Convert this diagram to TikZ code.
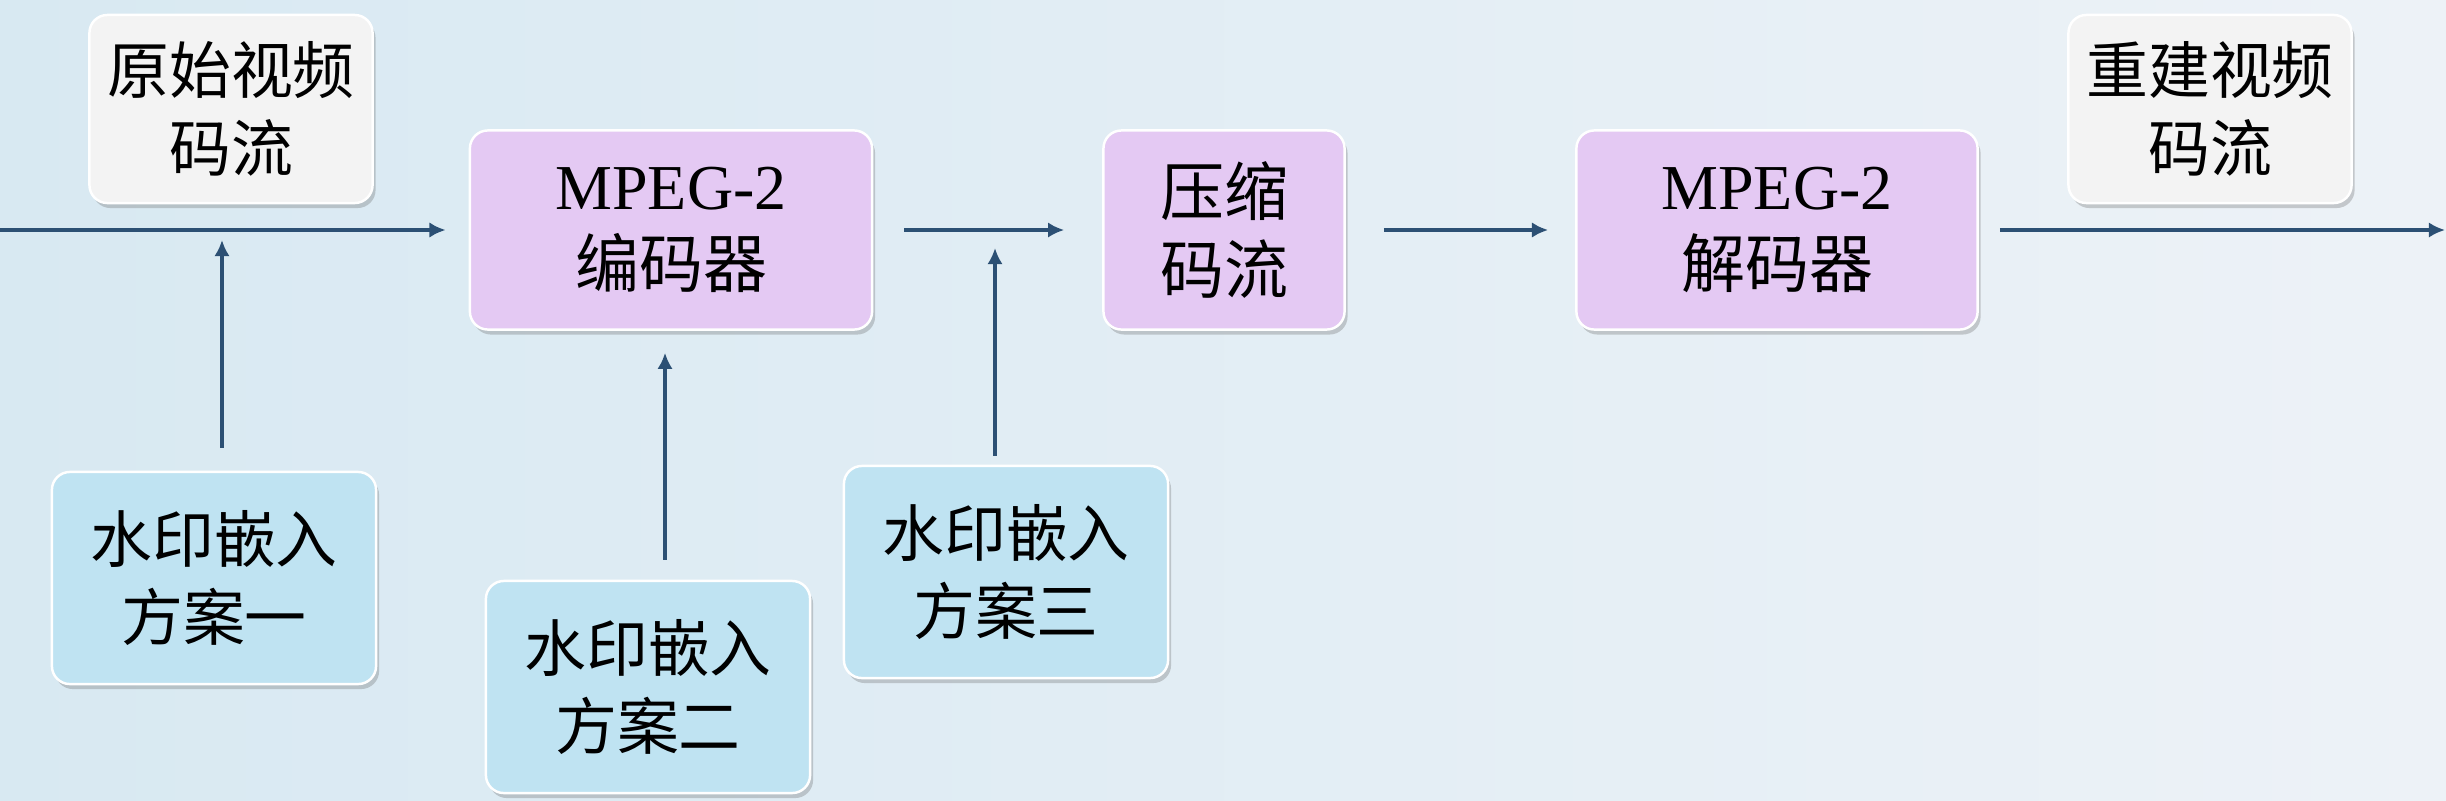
\documentclass[tikz,border=0pt]{standalone}
\usepackage{fontspec}
\setmainfont{Liberation Serif}
\newfontfamily\cjk{Noto Sans CJK SC}
\usepackage{tikz}
\usetikzlibrary{arrows.meta,shadows}

\definecolor{bgleft}{RGB}{216,233,242}
\definecolor{bgright}{RGB}{237,242,247}
\definecolor{flowblue}{RGB}{44,80,116}
\definecolor{grayfill}{RGB}{243,243,243}
\definecolor{lilac}{RGB}{228,201,243}
\definecolor{skyfill}{RGB}{191,227,242}

\begin{document}
\begin{tikzpicture}[x=0.01cm,y=-0.01cm,
	box/.style={rectangle,rounded corners=0.18cm,draw=white,line width=0.7pt,inner sep=0pt,align=center,
		font=\fontsize{17.6}{22.2}\selectfont,
		drop shadow={shadow xshift=0.03cm,shadow yshift=-0.05cm,opacity=0.3,fill=black!60}},
	stream/.style={box,fill=grayfill,minimum width=2.83cm,minimum height=1.88cm},
	codec/.style={box,fill=lilac,minimum height=1.99cm,font=\fontsize{18.2}{22.2}\selectfont},
	scheme/.style={box,fill=skyfill,minimum width=3.24cm,minimum height=2.12cm},
	flow/.style={-{Latex[length=4.6pt,width=4.4pt]},draw=flowblue,line width=1.1pt}]

			\useasboundingbox (0,0) rectangle (2446,800);
			\shade[left color=bgleft,right color=bgright] (0,0) rectangle (2446,800);

			%top nodes
			\node [stream] (src) at (231,109) {\cjk 原始视频\\\cjk 码流};
			\node [stream] (rec) at (2210,109) {\cjk 重建视频\\\cjk 码流};

			%middle nodes
			\node [codec,minimum width=4.02cm] (enc) at (671,230) {MPEG-2\\\cjk 编码器};
			\node [codec,minimum width=2.41cm] (cmp) at (1224,230) {\cjk 压缩\\\cjk 码流};
			\node [codec,minimum width=4.01cm] (dec) at (1777,230) {MPEG-2\\\cjk 解码器};

			%bottom nodes
			\node [scheme] (w1) at (214,578) {\cjk 水印嵌入\\\cjk 方案一};
			\node [scheme] (w2) at (648,687) {\cjk 水印嵌入\\\cjk 方案二};
			\node [scheme] (w3) at (1006,572) {\cjk 水印嵌入\\\cjk 方案三};

			%line ends
			\coordinate (in) at (0,230);
			\coordinate (out) at (2445,230);
			\coordinate (j1) at (222,230);
			\coordinate (j2) at (665,230);
			\coordinate (j3) at (995,230);

			%edges
			\draw [flow,shorten >=0.23cm] (in) -- (enc);
			\draw [flow,shorten <=0.31cm,shorten >=0.38cm] (enc) -- (cmp);
			\draw [flow,shorten <=0.38cm,shorten >=0.27cm] (cmp) -- (dec);
			\draw [flow,shorten <=0.21cm] (dec) -- (out);
			\draw [flow,shorten <=0.23cm,shorten >=0.1cm] (j1 |- w1.north) -- (j1);
			\draw [flow,shorten <=0.2cm,shorten >=0.22cm] (j2 |- w2.north) -- (j2 |- enc.south);
			\draw [flow,shorten <=0.09cm,shorten >=0.18cm] (j3 |- w3.north) -- (j3);
		\end{tikzpicture}
\end{document}
